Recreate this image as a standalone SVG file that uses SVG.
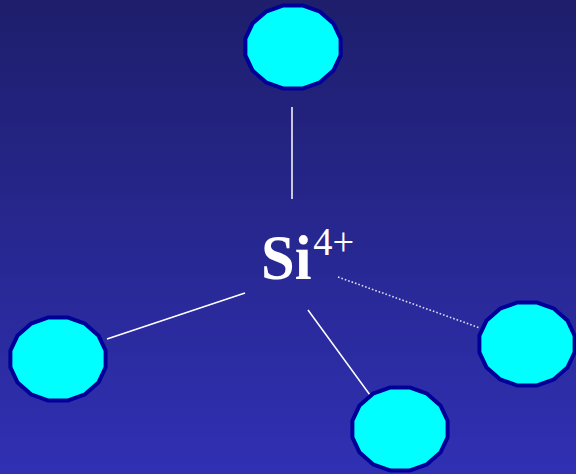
<svg xmlns="http://www.w3.org/2000/svg" xmlns:xlink="http://www.w3.org/1999/xlink" width="576" height="474" viewBox="0 0 576 474">
<defs>
<linearGradient id="bg" x1="0" y1="0" x2="0" y2="1">
<stop offset="0" stop-color="#1e1e6c"/>
<stop offset="1" stop-color="#3030b4"/>
</linearGradient>
<polygon id="ion" points="9.5,-41.6 27,-35.3 40.4,-23.6 47.6,-8.3 47.6,8.3 40.4,23.6 27,35.3 9.5,41.6 -9.5,41.6 -27,35.3 -40.4,23.6 -47.6,8.3 -47.6,-8.3 -40.4,-23.6 -27,-35.3 -9.5,-41.6"/>
</defs>
<style>
.o{fill:#00ffff;stroke:#000099;stroke-width:4;stroke-linejoin:round}
.c{stroke:#ffffff;stroke-width:1.5;fill:none}
.d{stroke:#dcdcf0;stroke-width:1.6;stroke-dasharray:1.6 2;fill:none}
.t{font-family:"Liberation Serif","Times New Roman",serif;font-weight:bold;fill:#ffffff}
</style>
<rect width="576" height="474" fill="url(#bg)"/>
<g id="connectors">
<line class="c" x1="292" y1="107" x2="292" y2="199"/>
<line class="c" x1="245" y1="293" x2="107" y2="339"/>
<line class="c" x1="308" y1="310" x2="370" y2="395"/>
<line class="d" x1="338" y1="277" x2="480" y2="328"/>
</g>
<g id="si">
<text class="t" x="261" y="279" font-size="63" transform="translate(261 0) scale(0.96 1) translate(-261 0)">Si<tspan font-size="40" font-weight="normal" dx="2" dy="-24">4+</tspan></text>
</g>
<g id="o-top"><use xlink:href="#ion" class="o" x="293" y="47"/></g>
<g id="o-left"><use xlink:href="#ion" class="o" x="58" y="359"/></g>
<g id="o-right"><use xlink:href="#ion" class="o" x="527" y="344"/></g>
<g id="o-bottom"><use xlink:href="#ion" class="o" x="400" y="429"/></g>
</svg>
